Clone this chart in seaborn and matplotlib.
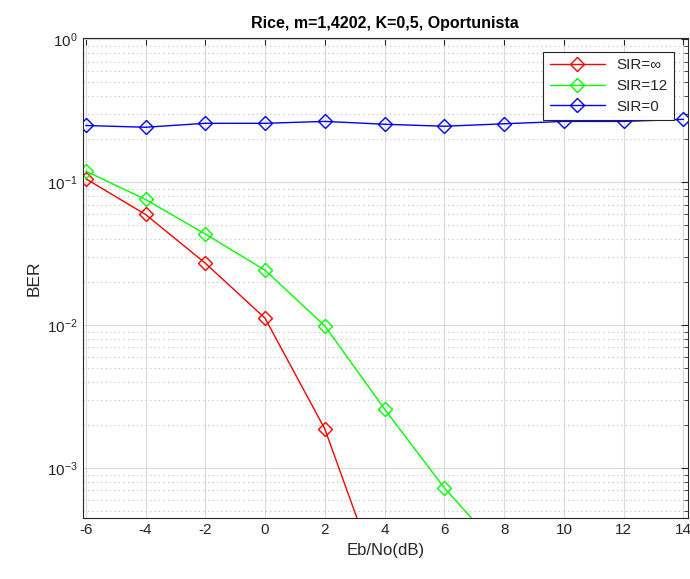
import numpy as np
import pandas as pd
import matplotlib
matplotlib.use("Agg")
import matplotlib.pyplot as plt
import seaborn as sns
from matplotlib.ticker import LogLocator, NullFormatter

# Eb/No (dB) e BER
ebno = [-6, -4, -2, 0, 2, 4, 6, 8, 10, 12, 14]
ber_inf = [0.106, 0.0596, 0.0272, 0.0112, 0.00188, 0.00013]
ber_12 = [0.120, 0.0759, 0.0435, 0.0243, 0.0099, 0.00259, 0.000727, 0.00025]
ber_0 = [0.250, 0.243, 0.259, 0.259, 0.267, 0.255, 0.247, 0.257, 0.267, 0.267, 0.276]

labels = ["SIR=\u221e", "SIR=12", "SIR=0"]
cores = ["#ff0000", "#00ff00", "#0000ff"]

df = pd.concat([
    pd.DataFrame({"ebno": ebno[:len(ber_inf)], "ber": ber_inf, "sir": labels[0]}),
    pd.DataFrame({"ebno": ebno[:len(ber_12)], "ber": ber_12, "sir": labels[1]}),
    pd.DataFrame({"ebno": ebno, "ber": ber_0, "sir": labels[2]}),
], ignore_index=True)

sns.set_style("white")
plt.rcParams["font.family"] = ["Liberation Sans", "DejaVu Sans"]
plt.rcParams["axes.unicode_minus"] = False
plt.rcParams["mathtext.fontset"] = "custom"
plt.rcParams["mathtext.rm"] = "Liberation Sans"
plt.rcParams["mathtext.it"] = "Liberation Sans"
plt.rcParams["mathtext.default"] = "regular"

fig = plt.figure(figsize=(6.9, 5.79), dpi=100)
ax = fig.add_axes([0.120, 0.105, 0.877, 0.829])

sns.lineplot(data=df, x="ebno", y="ber", hue="sir", hue_order=labels,
             palette=cores, linewidth=1.0, ax=ax, legend=False)

# marcadores losango vazados, como no MATLAB
for ln, c, lab in zip(ax.lines, cores, labels):
    ln.set_marker("D")
    ln.set_markersize(7)
    ln.set_markerfacecolor("none")
    ln.set_markeredgecolor(c)
    ln.set_markeredgewidth(1.0)
    ln.set_label(lab)

ax.set_yscale("log")
ax.set_xlim(-6.1, 14.15)
ax.set_ylim(4.47e-4, 1.02)
ax.set_xticks(range(-6, 15, 2))
ax.yaxis.set_major_locator(LogLocator(base=10, numticks=10))
ax.yaxis.set_minor_locator(LogLocator(base=10, subs=np.arange(2, 10), numticks=10))
ax.yaxis.set_minor_formatter(NullFormatter())

ax.grid(True, which="major", color="#d9d9d9", linewidth=0.8, linestyle="-")
ax.grid(True, which="minor", axis="y", color="#bfbfbf", linewidth=0.8,
        linestyle=(0, (1, 3)))
ax.tick_params(which="both", direction="in", top=True, right=True,
               colors="#262626", labelsize=11)
ax.tick_params(which="major", length=5)
ax.tick_params(which="minor", length=3)
for s in ax.spines.values():
    s.set_color("#262626")
    s.set_linewidth(0.8)

ax.set_xlabel("Eb/No(dB)", fontsize=12, color="#262626")
ax.set_ylabel("BER", fontsize=12.5, color="#262626")
ax.set_title("Rice, m=1,4202, K=0,5, Oportunista", fontsize=11.5,
             fontweight="bold", color="#000000", pad=7)

leg = ax.legend(loc="upper right", fontsize=11, frameon=True, fancybox=False,
                edgecolor="#262626", framealpha=1, borderaxespad=0.9,
                handlelength=3.6, labelspacing=0.45)
leg.get_frame().set_linewidth(0.8)

fig.savefig("out.png", dpi=100)
